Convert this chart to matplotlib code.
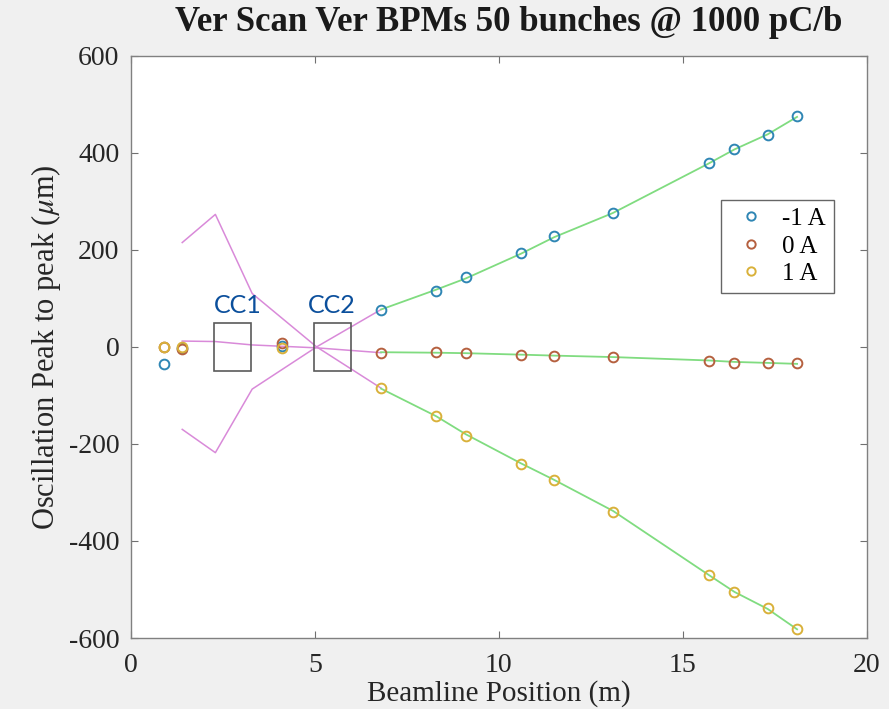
import numpy as np
import matplotlib.pyplot as plt
from matplotlib.patches import Rectangle

# BPM positions along the beamline (m)
bpm_pos = [0.9, 1.4, 4.1, 6.8, 8.3, 9.1, 10.6, 11.5, 13.1, 15.7, 16.4, 17.3, 18.1]

# measured oscillation peak-to-peak (um) for each corrector current
osc_m1 = [-35, -2, 2, 77, 116, 143, 193, 228, 275, 379, 408, 437, 476]
osc_0 = [0, -4, 8, -12, -10, -12, -17, -18, -20, -29, -33, -34, -34]
osc_p1 = [0, 0, -2, -85, -143, -183, -242, -274, -340, -470, -506, -539, -582]
series_labels = ['-1 A', '0 A', '1 A']

# model orbit through the crab cavity section
model_pos = [1.4, 2.3, 3.3, 5.05, 6.8]
model_m1 = [-170, -218, -87, 0, 77]
model_0 = [12, 11, 4, -2, -12]
model_p1 = [215, 273, 110, 0, -85]

# model orbit downstream, at the BPMs
fit_pos = [6.8, 8.3, 9.1, 10.6, 11.5, 13.1, 15.7, 16.4, 17.3, 18.1]
fit_m1 = [77, 118, 141, 192, 226, 276, 378, 407, 438, 474]
fit_0 = [-11, -12, -13, -16, -18, -21, -28, -31, -33, -35]
fit_p1 = [-86, -143, -180, -240, -274, -338, -470, -505, -540, -582]

# crab cavity extents (m)
cavities = ['CC1', 'CC2']
cav_start = [2.27, 4.98]
cav_end = [3.28, 5.99]
cav_label_x = [2.27, 4.80]

colors = ['#2f86b4', '#b5603f', '#d9b13a']
magenta = '#d98ad9'
green = '#80dc80'

plt.rcParams['font.family'] = ['Liberation Serif', 'DejaVu Serif']
plt.rcParams['mathtext.fontset'] = 'stix'
plt.rcParams['axes.unicode_minus'] = False

fig = plt.figure(figsize=(8.89, 7.09), dpi=100, facecolor='#f0f0f0')
ax = fig.add_axes([0.147, 0.1001, 0.8283, 0.8213])
ax.set_facecolor('white')

for m in (model_m1, model_0, model_p1):
    ax.plot(model_pos, m, color=magenta, lw=1.1, zorder=2)
for f in (fit_m1, fit_0, fit_p1):
    ax.plot(fit_pos, f, color=green, lw=1.3, zorder=2)

for ys, c, lab in zip((osc_m1, osc_0, osc_p1), colors, series_labels):
    ax.plot(bpm_pos, ys, 'o', ms=7, mfc='none', mec=c, mew=1.4, label=lab, zorder=3)

for name, x0, x1, lx in zip(cavities, cav_start, cav_end, cav_label_x):
    ax.add_patch(Rectangle((x0, -50), x1 - x0, 100, fill=False,
                           edgecolor='#5a5a5a', lw=1.2, zorder=2))
    ax.text(lx, 70, name, color='#0b4f9c', fontsize=18, family='Lato',
            ha='left', va='baseline', zorder=4)

ax.set_xlim(0, 20)
ax.set_ylim(-600, 600)
ax.set_xticks([0, 5, 10, 15, 20])
ax.set_yticks([-600, -400, -200, 0, 200, 400, 600])
ax.tick_params(direction='in', length=5, width=0.8, color='#707070',
               labelsize=20, labelcolor='#262626', top=True, right=True)
ax.tick_params(axis='x', pad=11)
ax.tick_params(axis='y', pad=8)
for s in ax.spines.values():
    s.set_color('#808080')
    s.set_linewidth(1.0)

ax.set_xlabel('Beamline Position (m)', fontsize=21, color='#262626', labelpad=1)
ax.set_ylabel(r'Oscillation Peak to peak ($\mu$m)', fontsize=22, color='#262626', labelpad=4)
ax.set_title('Ver Scan Ver BPMs 50 bunches @ 1000 pC/b', fontsize=25,
             fontweight='bold', color='#1a1a1a', pad=18, x=0.513)

leg = ax.legend(loc='upper left', bbox_to_anchor=(0.802, 0.752), fontsize=18,
                frameon=True, fancybox=False, edgecolor='#404040',
                handlelength=1.8, handletextpad=0.35, borderpad=0.3,
                labelspacing=0.2, borderaxespad=0)
leg.get_frame().set_linewidth(1.0)
for h in leg.legend_handles:
    h.set_markersize(6)

fig.savefig('out.png', dpi=100, facecolor=fig.get_facecolor())
